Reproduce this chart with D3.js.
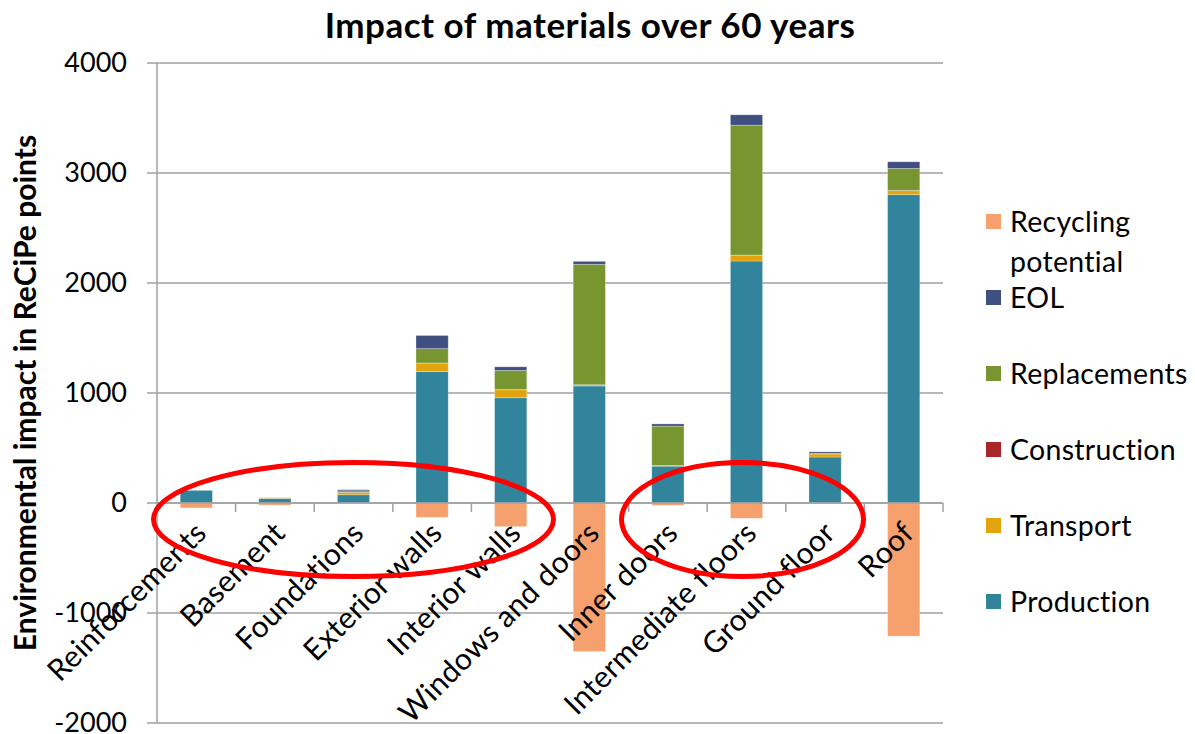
<!DOCTYPE html>
<html>
<head>
<meta charset="utf-8">
<script src="https://cdn.jsdelivr.net/npm/d3@7"></script>
<style>
  body { margin: 0; background: #fff; }
  text { font-family: Lato, "Open Sans", sans-serif; fill: #000; }
</style>
</head>
<body>
<svg id="chart"></svg>
<script>
var categories = ["Reinforcements", "Basement", "Foundations", "Exterior walls", "Interior walls",
                  "Windows and doors", "Inner doors", "Intermediate floors", "Ground floor", "Roof"];
var production   = [115, 40, 75, 1195, 957, 1064, 335, 2200, 418, 2803];
var transport    = [0, 3, 20, 75, 73, 10, 5, 52, 28, 36];
var construction = [0, 0, 1, 3, 2, 1, 1, 2, 1, 2];
var replacements = [0, 2, 15, 130, 173, 1095, 358, 1181, 5, 200];
var eol          = [0, 2, 10, 120, 33, 27, 20, 94, 13, 61];
var recycling    = [-45, -20, -5, -130, -215, -1350, -21, -139, -3, -1210];
var yTicks = [-2000, -1000, 0, 1000, 2000, 3000, 4000];

var seriesNames  = ["Production", "Transport", "Construction", "Replacements", "EOL", "Recycling potential"];
var seriesKeys   = ["production", "transport", "construction", "replacements", "eol", "recycling"];
var seriesColors = ["#31849B", "#E2A30C", "#A9272B", "#77962F", "#3F4F7F", "#F6A06E"];

var rows = categories.map(function(c, i) {
    return { cat: c, production: production[i], transport: transport[i], construction: construction[i],
             replacements: replacements[i], eol: eol[i], recycling: recycling[i] };
});

var svgWidth = 1195, svgHeight = 734;
var plotLeft = 157, plotRight = 943, plotTop = 63, plotBottom = 723;

var svg = d3.select("#chart")
        .attr("width", svgWidth)
        .attr("height", svgHeight);

var x = d3.scaleBand().domain(categories).range([plotLeft, plotRight]).paddingInner(0.59).paddingOuter(0.295);
var y = d3.scaleLinear().domain([-2000, 4000]).range([plotBottom, plotTop]);
var color = d3.scaleOrdinal().domain(seriesKeys).range(seriesColors);

// gridlines + y ticks
svg.append("g")
    .selectAll("line")
    .data(yTicks)
    .enter()
    .append("line")
    .attr("x1", plotLeft - 10).attr("x2", plotRight)
    .attr("y1", function(d) { return y(d); })
    .attr("y2", function(d) { return y(d); })
    .attr("stroke", "#a0a0a0")
    .attr("stroke-width", 1.5);

svg.append("g")
    .selectAll("text")
    .data(yTicks)
    .enter()
    .append("text")
    .attr("x", 127)
    .attr("y", function(d) { return y(d); })
    .attr("dy", "0.35em")
    .attr("text-anchor", "end")
    .style("font-size", "27px")
    .text(function(d) { return d; });

// y axis line
svg.append("line")
    .attr("x1", plotLeft).attr("x2", plotLeft)
    .attr("y1", plotTop).attr("y2", plotBottom)
    .attr("stroke", "#a0a0a0")
    .attr("stroke-width", 1.5);

// bars
var stack = d3.stack().keys(seriesKeys).offset(d3.stackOffsetDiverging);
var layers = stack(rows);

svg.append("g")
    .selectAll("g")
    .data(layers)
    .enter()
    .append("g")
    .attr("fill", function(d) { return color(d.key); })
    .selectAll("rect")
    .data(function(d) { return d; })
    .enter()
    .append("rect")
    .attr("x", function(d) { return x(d.data.cat); })
    .attr("width", x.bandwidth())
    .attr("y", function(d) { return y(d[1]); })
    .attr("height", function(d) { return Math.abs(y(d[0]) - y(d[1])); })
    .attr("stroke", "rgba(255,255,255,0.35)")
    .attr("stroke-width", 0.8);

// x axis at zero with tick marks between categories
svg.append("line")
    .attr("x1", plotLeft).attr("x2", plotRight)
    .attr("y1", y(0)).attr("y2", y(0))
    .attr("stroke", "#a0a0a0")
    .attr("stroke-width", 1.5);

var step = x.step();
svg.append("g")
    .selectAll("line")
    .data(d3.range(categories.length + 1))
    .enter()
    .append("line")
    .attr("x1", function(i) { return plotLeft + i * step; })
    .attr("x2", function(i) { return plotLeft + i * step; })
    .attr("y1", y(0)).attr("y2", y(0) + 9)
    .attr("stroke", "#a0a0a0")
    .attr("stroke-width", 1.5);

// category labels, rotated
svg.append("g")
    .selectAll("text")
    .data(categories)
    .enter()
    .append("text")
    .attr("transform", function(d) {
        return "translate(" + (x(d) + x.bandwidth() / 2 - 3) + "," + (y(0) + 17) + ") rotate(-45)";
    })
    .attr("text-anchor", "end")
    .attr("dy", "0.7em")
    .style("font-size", "30px")
    .style("letter-spacing", "0.3px")
    .text(function(d) { return d; });

// red annotation ellipses
svg.append("ellipse")
    .attr("cx", x("Foundations") + x.bandwidth() / 2)
    .attr("cy", y(-150))
    .attr("rx", 200).attr("ry", 57)
    .attr("fill", "none")
    .attr("stroke", "#ff0000")
    .attr("stroke-width", 5);

svg.append("ellipse")
    .attr("cx", x("Intermediate floors") + x.bandwidth() / 2 - 4)
    .attr("cy", y(-150))
    .attr("rx", 121).attr("ry", 57)
    .attr("fill", "none")
    .attr("stroke", "#ff0000")
    .attr("stroke-width", 5);

// title
svg.append("text")
    .attr("x", 590).attr("y", 38)
    .attr("text-anchor", "middle")
    .style("font-size", "35px")
    .style("font-weight", "bold")
    .style("letter-spacing", "0.5px")
    .text("Impact of materials over 60 years");

// y axis title
svg.append("text")
    .attr("transform", "translate(36,393) rotate(-90)")
    .attr("text-anchor", "middle")
    .style("font-size", "30px")
    .style("font-weight", "bold")
    .text("Environmental impact in ReCiPe points");

// legend (top to bottom in reverse stack order)
var legendItems = [
    { key: "recycling", lines: ["Recycling", "potential"], y: 222 },
    { key: "eol", lines: ["EOL"], y: 298 },
    { key: "replacements", lines: ["Replacements"], y: 374 },
    { key: "construction", lines: ["Construction"], y: 450 },
    { key: "transport", lines: ["Transport"], y: 526 },
    { key: "production", lines: ["Production"], y: 602 }
];

var legend = svg.append("g")
    .selectAll("g")
    .data(legendItems)
    .enter()
    .append("g")
    .attr("transform", function(d) { return "translate(986," + d.y + ")"; });

legend.append("rect")
    .attr("x", 0).attr("y", -8)
    .attr("width", 15).attr("height", 15)
    .attr("fill", function(d) { return color(d.key); });

legend.each(function(d) {
    var t = d3.select(this).append("text")
        .attr("x", 24)
        .attr("y", 0)
        .style("font-size", "28.5px")
        .style("letter-spacing", "0.3px");
    d.lines.forEach(function(line, i) {
        t.append("tspan")
            .attr("x", 24)
            .attr("y", i * 40)
            .attr("dy", "0.35em")
            .text(line);
    });
});
</script>
</body>
</html>
